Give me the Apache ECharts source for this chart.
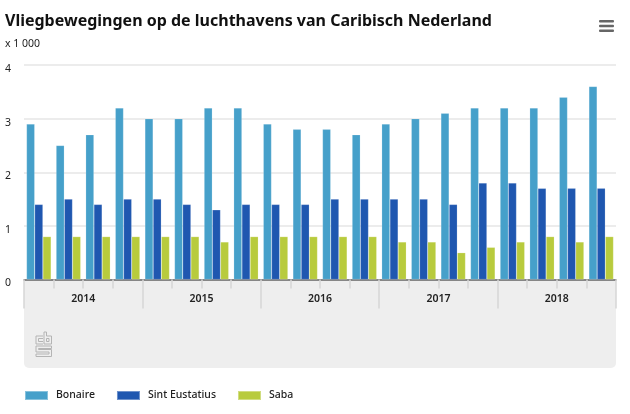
<!DOCTYPE html>
<html>
<head>
<meta charset="utf-8">
<script src="https://cdn.jsdelivr.net/npm/echarts@6/dist/echarts.min.js"></script>
<style>
html, body { margin: 0; padding: 0; background: #fff; }
#graph { width: 630px; height: 414px; }
</style>
</head>
<body>
<div id="graph"></div>
<script>
var years = ['2014', '2015', '2016', '2017', '2018'];
var quarters = [
    '2014 Q1', '2014 Q2', '2014 Q3', '2014 Q4',
    '2015 Q1', '2015 Q2', '2015 Q3', '2015 Q4',
    '2016 Q1', '2016 Q2', '2016 Q3', '2016 Q4',
    '2017 Q1', '2017 Q2', '2017 Q3', '2017 Q4',
    '2018 Q1', '2018 Q2', '2018 Q3', '2018 Q4'
];
var bonaire = [2.9, 2.5, 2.7, 3.2, 3.0, 3.0, 3.2, 3.2, 2.9, 2.8, 2.8, 2.7, 2.9, 3.0, 3.1, 3.2, 3.2, 3.2, 3.4, 3.6];
var sintEustatius = [1.4, 1.5, 1.4, 1.5, 1.5, 1.4, 1.3, 1.4, 1.4, 1.4, 1.5, 1.5, 1.5, 1.5, 1.4, 1.8, 1.8, 1.7, 1.7, 1.7];
var saba = [0.8, 0.8, 0.8, 0.8, 0.8, 0.8, 0.7, 0.8, 0.8, 0.8, 0.8, 0.8, 0.7, 0.7, 0.5, 0.6, 0.7, 0.8, 0.7, 0.8];

var labelFont = '"Noto Sans", sans-serif';

function barSeries(name, data, color) {
    return {
        name: name,
        type: 'bar',
        data: data,
        barWidth: 8.2,
        barGap: '0%',
        itemStyle: {color: color, borderColor: 'rgba(255,255,255,0.35)', borderWidth: 0.5}
    };
}

// menu icon + grey band under the axis + cbs logo
var logoStroke = {stroke: '#b4b4b4', lineWidth: 1, fill: 'none'};
var graphics = [
    {type: 'rect', z: -1, shape: {x: 24, y: 280, width: 592, height: 88, r: [0, 0, 5, 5]}, style: {fill: '#eeeeee'}},
    {type: 'rect', shape: {x: 599, y: 20, width: 15, height: 2.5, r: 1}, style: {fill: '#666'}},
    {type: 'rect', shape: {x: 599, y: 24.8, width: 15, height: 2.5, r: 1}, style: {fill: '#666'}},
    {type: 'rect', shape: {x: 599, y: 29.6, width: 15, height: 2.5, r: 1}, style: {fill: '#666'}},
    {type: 'polyline', shape: {points: [[43, 336], [36, 336], [36, 344], [43, 344]]}, style: logoStroke},
    {type: 'polyline', shape: {points: [[43, 338.5], [38.5, 338.5], [38.5, 341.5], [43, 341.5]]}, style: logoStroke},
    {type: 'polyline', shape: {points: [[44, 332], [44, 344], [51.5, 344], [51.5, 336], [46.5, 336], [46.5, 332], [44, 332]]}, style: logoStroke},
    {type: 'rect', shape: {x: 46.5, y: 338.5, width: 2.5, height: 3}, style: logoStroke},
    {type: 'polyline', shape: {points: [[51.5, 346], [36, 346], [36, 352], [49, 352], [49, 354], [36, 354], [36, 356.5], [51.5, 356.5], [51.5, 349.5], [38.5, 349.5], [38.5, 348.5], [51.5, 348.5], [51.5, 346]]}, style: logoStroke}
];

var option = {
    animation: false,
    backgroundColor: '#fff',
    title: {
        text: 'Vliegbewegingen op de luchthavens van Caribisch Nederland',
        subtext: 'x 1 000',
        left: 5,
        top: 13,
        itemGap: 10,
        padding: 0,
        textStyle: {fontFamily: labelFont, fontWeight: 'bold', fontSize: 16, color: '#111'},
        subtextStyle: {fontFamily: labelFont, fontSize: 10.5, color: '#222'}
    },
    legend: {
        left: 24,
        top: 390,
        padding: 0,
        itemWidth: 23,
        itemHeight: 9,
        itemGap: 21,
        icon: 'rect',
        textStyle: {fontFamily: labelFont, fontSize: 10.5, fontWeight: 500, color: '#222', padding: [0, 0, 0, 3]},
        data: ['Bonaire', 'Sint Eustatius', 'Saba']
    },
    grid: {left: 24, right: 14, top: 65, height: 214.5, containLabel: false},
    xAxis: [{
        type: 'category',
        data: quarters,
        axisLine: {lineStyle: {color: '#666', width: 1.5}},
        axisTick: {show: true, interval: 0, length: 9, alignWithLabel: false, lineStyle: {color: '#d6d6d6', width: 1.5}},
        axisLabel: {show: false}
    }, {
        type: 'category',
        position: 'bottom',
        data: years,
        axisLine: {show: false},
        axisTick: {show: true, interval: 0, length: 29, alignWithLabel: false, lineStyle: {color: '#d6d6d6', width: 1.5}},
        axisLabel: {margin: 14, fontFamily: labelFont, fontSize: 10.5, fontWeight: 600, color: '#222'}
    }],
    yAxis: {
        type: 'value',
        min: 0,
        max: 4,
        interval: 1,
        axisLine: {show: false},
        axisTick: {show: false},
        splitLine: {lineStyle: {color: '#e6e6e6', width: 1.5}},
        axisLabel: {
            fontFamily: labelFont, fontSize: 10.5, color: '#222',
            align: 'left', margin: 19, verticalAlign: 'top', lineHeight: 8
        }
    },
    graphic: graphics,
    series: [
        barSeries('Bonaire', bonaire, '#46a0ca'),
        barSeries('Sint Eustatius', sintEustatius, '#1f57b0'),
        barSeries('Saba', saba, '#b8cb3d')
    ]
};

var chart = echarts.init(document.getElementById('graph'));
chart.setOption(option);
</script>
</body>
</html>
